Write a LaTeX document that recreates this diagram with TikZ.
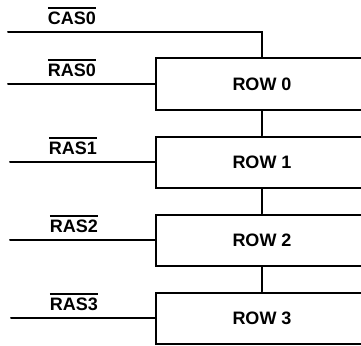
\documentclass[tikz,border=0pt]{standalone}
\usepackage{fontspec}
\setsansfont{Liberation Sans}
\newcommand{\barsig}[1]{\setbox0\hbox{#1}\rlap{\raisebox{\dimexpr\ht0+3pt\relax}{\rule{\wd0}{1.6pt}}}\box0}
\begin{document}
\begin{tikzpicture}[
            x=1pt, y=-1pt,
            wire/.style={line width=2pt, line cap=round},
            rowbox/.style={rectangle, draw, line width=2pt, minimum width=212pt, minimum height=51pt, font=\sffamily\bfseries\fontsize{18}{20}\selectfont},
            siglabel/.style={font=\sffamily\bfseries\fontsize{18}{20}\selectfont, inner sep=0pt}
        ]
        \useasboundingbox (0, 0) rectangle (361, 345);
        \clip (0, 0) rectangle (361, 345);

        % ==========================================
        % MEMORY ROWS
        % ==========================================
        \node[rowbox] (row0) at (262, 84) {ROW 0};
        \node[rowbox] (row1) at (262, 162) {ROW 1};
        \node[rowbox] (row2) at (262, 240) {ROW 2};
        \node[rowbox] (row3) at (262, 318) {ROW 3};

        % Column strobe passed down through the rows
        \coordinate (casin) at (8, 32);
        \draw[wire] (casin) -| (row0.north);
        \draw[wire] (row0.south) -- (row1.north);
        \draw[wire] (row1.south) -- (row2.north);
        \draw[wire] (row2.south) -- (row3.north);

        % ==========================================
        % STROBE INPUTS
        % ==========================================
        \coordinate (ras0in) at (8, 84);
        \coordinate (ras1in) at (10, 162);
        \coordinate (ras2in) at (10, 240);
        \coordinate (ras3in) at (11, 318);

        \draw[wire] (ras0in) -- (row0.west);
        \draw[wire] (ras1in) -- (row1.west);
        \draw[wire] (ras2in) -- (row2.west);
        \draw[wire] (ras3in) -- (row3.west);

        % Signal names
        \node[siglabel] (caslbl) at (72, 16) {\barsig{CAS0}};
        \node[siglabel] (ras0lbl) at (72, 68) {\barsig{RAS0}};
        \node[siglabel] (ras1lbl) at (73, 146) {\barsig{RAS1}};
        \node[siglabel] (ras2lbl) at (74, 224) {\barsig{RAS2}};
        \node[siglabel] (ras3lbl) at (74, 302) {\barsig{RAS3}};

        \end{tikzpicture}
\end{document}
